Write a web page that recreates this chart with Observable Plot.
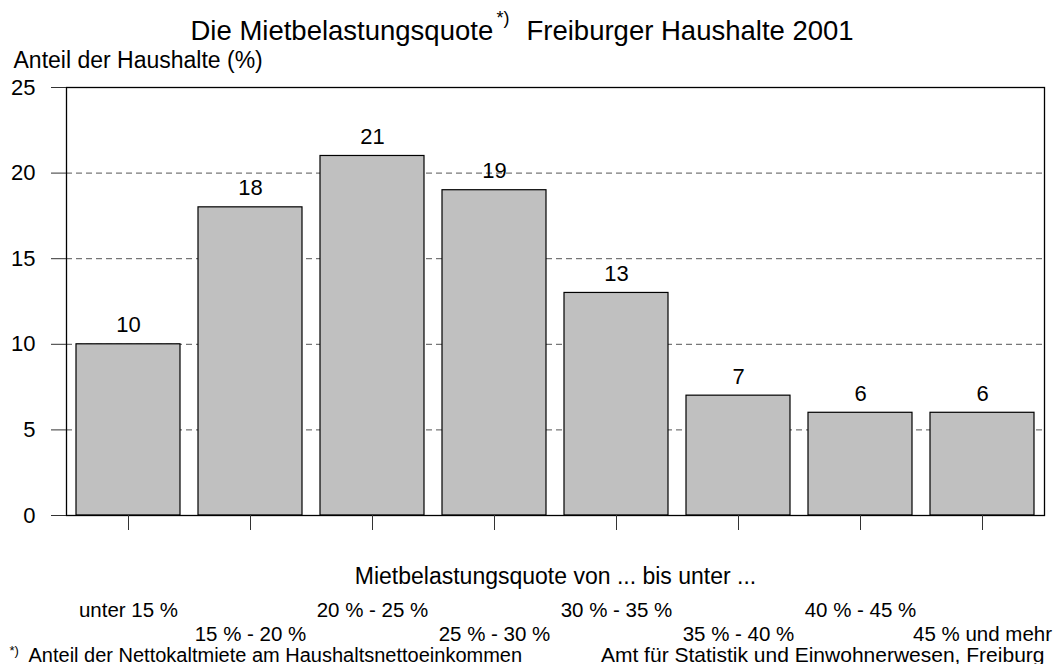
<!DOCTYPE html>
<html>
<head>
<meta charset="utf-8">
<script src="https://cdn.jsdelivr.net/npm/d3@7"></script>
<script src="https://cdn.jsdelivr.net/npm/@observablehq/plot@0.6"></script>
<style>
  html, body { margin: 0; padding: 0; background: #fff; }
  #chart svg { display: block; }
</style>
</head>
<body>
<div id="chart"></div>
<script>
// Data
const categories = ["unter 15 %", "15 % - 20 %", "20 % - 25 %", "25 % - 30 %", "30 % - 35 %", "35 % - 40 %", "40 % - 45 %", "45 % und mehr"];
const shares = [10, 18, 21, 19, 13, 7, 6, 6];
const yTicks = [0, 5, 10, 15, 20, 25];
const gridValues = [5, 10, 15, 20];

const titleMain = "Die Mietbelastungsquote";
const titleSup = "*)";
const titleRest = "Freiburger Haushalte 2001";
const yLabel = "Anteil der Haushalte (%)";
const xLabel = "Mietbelastungsquote von ... bis unter ...";
const noteSup = "*)";
const noteText = "Anteil der Nettokaltmiete am Haushaltsnettoeinkommen";
const sourceText = "Amt für Statistik und Einwohnerwesen, Freiburg";

const data = categories.map((c, i) => ({cat: c, value: shares[i], row: i % 2}));
const font = "'Liberation Sans', Arial, Helvetica, sans-serif";

const chart = Plot.plot({
  width: 1054,
  height: 664,
  marginLeft: 66,
  marginRight: 10,
  marginTop: 87,
  marginBottom: 149,
  style: {fontFamily: font, background: "#fff", color: "#000", overflow: "visible"},
  x: {domain: categories, paddingInner: 0.147, paddingOuter: 0.0735},
  y: {domain: [0, 25]},
  marks: [
    Plot.ruleY(gridValues, {stroke: "#555", strokeDasharray: "6,4", strokeWidth: 1}),
    Plot.barY(data, {x: "cat", y: "value", fill: "#c0c0c0", stroke: "#000", strokeWidth: 1.2}),
    Plot.frame({stroke: "#000", strokeWidth: 1.3}),
    Plot.axisY({ticks: yTicks, tickSize: 15, tickPadding: 16, fontSize: 22, stroke: "#333", label: null}),
    Plot.axisX({tickSize: 15, tickFormat: () => "", stroke: "#333", label: null}),
    // value labels
    Plot.text(data, {x: "cat", y: "value", text: d => String(d.value), dy: -19, fontSize: 22, fill: "#000"}),
    // staggered category labels
    Plot.text(data.filter(d => d.row === 0), {x: "cat", text: "cat", frameAnchor: "bottom", dy: 101, fontSize: 20.5, fill: "#000"}),
    Plot.text(data.filter(d => d.row === 1), {x: "cat", text: "cat", frameAnchor: "bottom", dy: 125, fontSize: 20.5, fill: "#000"}),
    // x label
    Plot.text([xLabel], {text: d => d, frameAnchor: "bottom", dy: 68, fontSize: 23, fill: "#000"}),
    // y label
    Plot.text([yLabel], {text: d => d, frameAnchor: "top-left", dx: -53, dy: -36, textAnchor: "start", fontSize: 23, fill: "#000"}),
    // title
    Plot.text([titleMain], {text: d => d, frameAnchor: "top-left", dx: 124, dy: -67, textAnchor: "start", fontSize: 27.5, fill: "#000"}),
    Plot.text([titleSup], {text: d => d, frameAnchor: "top-left", dx: 430, dy: -76, textAnchor: "start", fontSize: 18, fill: "#000"}),
    Plot.text([titleRest], {text: d => d, frameAnchor: "top-left", dx: 460, dy: -67, textAnchor: "start", fontSize: 27.5, fill: "#000"}),
    // footnotes
    Plot.text([noteSup], {text: d => d, frameAnchor: "bottom-left", dx: -57, dy: 139, textAnchor: "start", fontSize: 13, fill: "#000"}),
    Plot.text([noteText], {text: d => d, frameAnchor: "bottom-left", dx: -38, dy: 146, textAnchor: "start", fontSize: 20, fill: "#000"}),
    Plot.text([sourceText], {text: d => d, frameAnchor: "bottom-right", dx: 0, dy: 146, textAnchor: "end", fontSize: 21, fill: "#000"})
  ]
});
document.getElementById("chart").appendChild(chart);
</script>
</body>
</html>
